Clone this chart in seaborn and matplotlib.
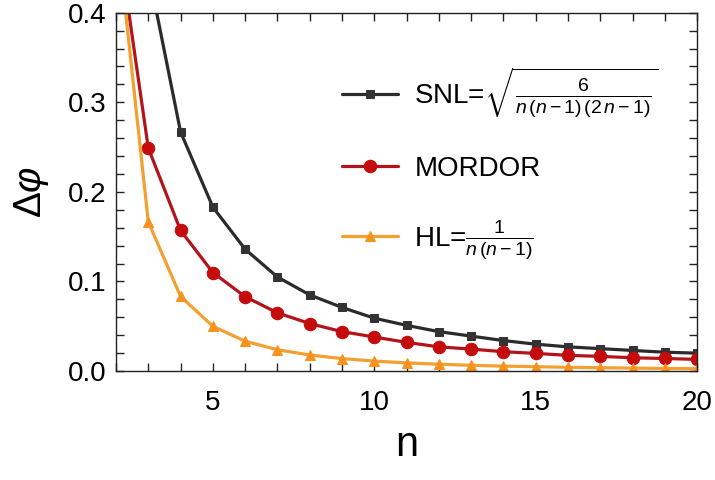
import matplotlib
matplotlib.use("Agg")
import matplotlib.pyplot as plt
import seaborn as sns
import pandas as pd
from matplotlib.ticker import MultipleLocator

n_values = list(range(2, 21))
snl = [1.0, 0.447, 0.267, 0.183, 0.136, 0.105, 0.085, 0.071, 0.059, 0.051,
       0.044, 0.039, 0.034, 0.030, 0.027, 0.025, 0.023, 0.021, 0.020]
mordor = [0.5, 0.249, 0.157, 0.110, 0.083, 0.065, 0.053, 0.044, 0.038, 0.032,
          0.027, 0.0245, 0.0216, 0.0197, 0.0175, 0.0164, 0.0148, 0.0140, 0.0130]
hl = [0.5, 0.1667, 0.0833, 0.050, 0.0333, 0.0238, 0.0179, 0.0139, 0.0111, 0.0091,
      0.0076, 0.0064, 0.0055, 0.0048, 0.0042, 0.0037, 0.0033, 0.0029, 0.0026]

labels = [r"SNL=$\sqrt{\frac{6}{n\,(n-1)\,(2\,n-1)}}$",
          "MORDOR",
          r"HL=$\frac{1}{n\,(n-1)}$"]

sns.set_style("white")
plt.rcParams["font.family"] = ["Liberation Sans", "DejaVu Sans"]
plt.rcParams["mathtext.fontset"] = "custom"
plt.rcParams["mathtext.rm"] = "Liberation Sans"
plt.rcParams["mathtext.it"] = "Liberation Sans:italic"
plt.rcParams["mathtext.bf"] = "Liberation Sans:bold"
plt.rcParams["text.color"] = "black"
plt.rcParams["axes.labelcolor"] = "black"
plt.rcParams["xtick.color"] = "black"
plt.rcParams["ytick.color"] = "black"

fig = plt.figure(figsize=(7.15, 4.8), dpi=100)
ax = fig.add_axes([0.1622, 0.227, 0.8128, 0.7465])

styles = [
    (snl, labels[0], "#2b2b2b", "#333333", "s", 6),
    (mordor, labels[1], "#b3141b", "#c40c0c", "o", 9),
    (hl, labels[2], "#f4a030", "#f7921e", "^", 7),
]
for vals, lab, lc, mc, mk, ms in styles:
    df = pd.DataFrame({"n": n_values, "v": vals})
    sns.lineplot(data=df, x="n", y="v", ax=ax, color=lc, linewidth=2.3,
                 marker=mk, markersize=ms, markerfacecolor=mc,
                 markeredgecolor=mc, label=lab)

ax.set_xlim(2, 20)
ax.set_ylim(0, 0.4)
ax.xaxis.set_major_locator(MultipleLocator(5))
ax.xaxis.set_minor_locator(MultipleLocator(1))
ax.yaxis.set_major_locator(MultipleLocator(0.1))
ax.yaxis.set_minor_locator(MultipleLocator(0.02))
ax.yaxis.set_major_formatter(matplotlib.ticker.FormatStrFormatter("%.1f"))
ax.tick_params(which="both", direction="in", top=True, right=True,
               bottom=True, left=True, labelsize=20, color="#222222")
ax.tick_params(which="major", length=6, width=1.0)
ax.tick_params(which="minor", length=6, width=1.0)
ax.tick_params(axis="x", which="major", pad=14)
ax.tick_params(axis="y", which="major", pad=7)
for s in ax.spines.values():
    s.set_color("#222222")
    s.set_linewidth(1.0)

ax.set_xlabel("n", fontsize=30, labelpad=6)
ax.set_ylabel(r"$\Delta\varphi$", fontsize=28, labelpad=12)

leg = ax.legend(loc="upper left", bbox_to_anchor=(0.37, 0.885), frameon=False,
                fontsize=20, handlelength=2.0, handletextpad=0.6,
                labelspacing=1.3, borderaxespad=0)

fig.savefig("out.png", dpi=100)
